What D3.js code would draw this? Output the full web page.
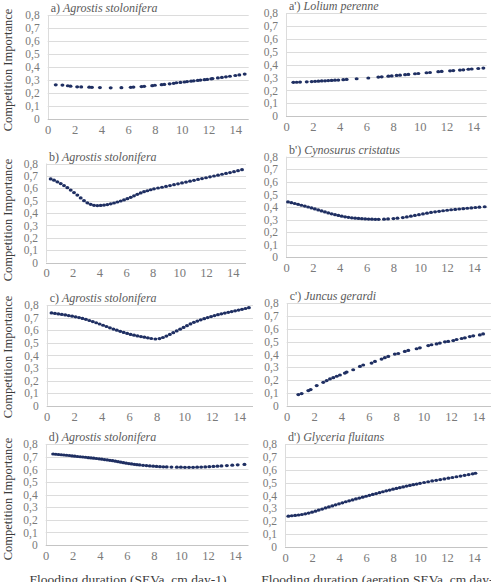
<!DOCTYPE html>
<html><head><meta charset="utf-8">
<script src="https://cdn.jsdelivr.net/npm/d3@7"></script>
</head>
<body style="margin:0;padding:0;background:#fff;">
<svg id="chart" width="491" height="582" style="display:block"></svg>
<script>
// ---------- data ----------
const yTickValues = [0, 0.1, 0.2, 0.3, 0.4, 0.5, 0.6, 0.7, 0.8];
const yTickLabels = ["0", "0,1", "0,2", "0,3", "0,4", "0,5", "0,6", "0,7", "0,8"];
const xTickValues = [0, 2, 4, 6, 8, 10, 12, 14];

const panelLetters = ["a)", "a')", "b)", "b')", "c)", "c')", "d)", "d')"];
const panelSpecies = ["Agrostis stolonifera", "Lolium perenne", "Agrostis stolonifera", "Cynosurus cristatus",
                      "Agrostis stolonifera", "Juncus gerardi", "Agrostis stolonifera", "Glyceria fluitans"];
const yAxisTitle = "Competition Importance";
const xAxisTitles = ["Flooding duration (SEVa, cm day-1)", "Flooding duration (aeration SEVa, cm day-1)"];

const xA = [0.6,1.1,1.5,1.7,2.2,2.5,3.1,3.3,3.9,4.7,5.5,6.2,6.4,7.0,7.2,7.8,8.0,8.5,8.7,9.1,9.4,9.6,9.9,10.2,10.4,10.7,10.9,11.2,11.4,11.7,11.9,12.2,12.3,12.7,13.0,13.3,13.6,14.0,14.3,14.7];
const yA = [0.265,0.263,0.258,0.255,0.25,0.249,0.247,0.246,0.244,0.242,0.243,0.246,0.248,0.252,0.254,0.259,0.262,0.266,0.268,0.273,0.277,0.281,0.284,0.287,0.29,0.293,0.296,0.299,0.302,0.305,0.307,0.311,0.313,0.318,0.322,0.327,0.331,0.337,0.341,0.348];

const xA2 = [0.55,0.8,1.05,1.55,1.92,2.17,2.42,2.67,2.92,3.16,3.41,3.66,3.91,4.28,4.53,5.28,6.15,6.9,7.15,7.65,7.9,8.27,8.52,8.9,9.14,9.64,9.89,10.5,10.76,11.38,11.63,12.26,12.5,13.0,13.25,13.63,13.88,14.37,14.75];
const yA2 = [0.262,0.263,0.264,0.266,0.268,0.27,0.271,0.273,0.274,0.276,0.277,0.279,0.28,0.283,0.285,0.29,0.296,0.303,0.305,0.31,0.312,0.316,0.318,0.322,0.324,0.329,0.331,0.337,0.339,0.345,0.347,0.352,0.354,0.358,0.36,0.364,0.366,0.37,0.373];

const xB = [0.35,0.6,0.85,1.1,1.35,1.6,1.85,2.1,2.35,2.6,2.85,3.1,3.35,3.6,3.85,4.1,4.35,4.6,4.85,5.1,5.35,5.6,5.85,6.1,6.35,6.6,6.85,7.1,7.35,7.6,7.85,8.1,8.4,8.7,9.0,9.3,9.6,9.9,10.2,10.5,10.8,11.1,11.4,11.7,12.0,12.3,12.6,12.9,13.2,13.5,13.8,14.1,14.4,14.7];
const yB = [0.675,0.665,0.652,0.638,0.622,0.605,0.585,0.565,0.545,0.522,0.5,0.482,0.47,0.462,0.46,0.461,0.464,0.468,0.474,0.481,0.489,0.497,0.506,0.516,0.527,0.539,0.551,0.562,0.572,0.58,0.588,0.595,0.602,0.608,0.615,0.622,0.629,0.636,0.643,0.65,0.657,0.664,0.671,0.678,0.685,0.692,0.699,0.706,0.713,0.72,0.727,0.734,0.742,0.75];

const xB2 = [0.15,0.4,0.65,0.9,1.15,1.4,1.65,1.9,2.15,2.4,2.65,2.9,3.15,3.4,3.65,3.9,4.15,4.4,4.65,4.9,5.15,5.4,5.65,5.9,6.15,6.4,6.65,6.9,7.3,7.6,8.0,8.3,8.7,9.0,9.3,9.6,9.9,10.2,10.5,10.8,11.1,11.4,11.7,12.0,12.3,12.6,12.9,13.2,13.5,13.8,14.1,14.4,14.8];
const yB2 = [0.44,0.434,0.428,0.421,0.414,0.407,0.4,0.393,0.385,0.377,0.369,0.361,0.353,0.346,0.339,0.333,0.327,0.322,0.318,0.314,0.311,0.309,0.307,0.305,0.304,0.303,0.302,0.302,0.303,0.305,0.308,0.311,0.316,0.321,0.327,0.333,0.339,0.345,0.351,0.357,0.362,0.366,0.37,0.374,0.378,0.381,0.384,0.387,0.39,0.393,0.396,0.399,0.402];

const xC = [0.35,0.6,0.85,1.1,1.35,1.6,1.85,2.1,2.35,2.6,2.85,3.1,3.35,3.6,3.85,4.1,4.35,4.6,4.85,5.1,5.35,5.6,5.85,6.1,6.35,6.6,6.85,7.1,7.35,7.6,7.9,8.2,8.45,8.7,8.95,9.2,9.45,9.7,9.95,10.2,10.45,10.7,10.95,11.2,11.45,11.7,11.95,12.2,12.45,12.7,12.95,13.2,13.45,13.7,13.95,14.2,14.45,14.7];
const yC = [0.737,0.733,0.729,0.725,0.721,0.716,0.711,0.706,0.7,0.693,0.686,0.677,0.668,0.659,0.649,0.639,0.629,0.619,0.609,0.6,0.591,0.582,0.574,0.566,0.56,0.554,0.549,0.544,0.539,0.534,0.53,0.533,0.542,0.553,0.566,0.58,0.594,0.608,0.622,0.636,0.65,0.662,0.672,0.682,0.691,0.7,0.708,0.716,0.723,0.73,0.736,0.742,0.748,0.754,0.76,0.766,0.772,0.779];

const xC2 = [0.85,1.09,1.58,1.75,2.19,2.67,2.92,3.16,3.4,3.65,3.89,4.25,4.38,4.86,5.35,5.59,6.2,6.45,6.93,7.17,7.42,7.9,8.15,8.63,8.88,9.49,9.73,10.34,10.58,10.95,11.19,11.56,11.8,12.17,12.41,12.78,13.02,13.38,13.63,14.11,14.35];
const yC2 = [0.087,0.095,0.118,0.126,0.157,0.183,0.196,0.209,0.219,0.23,0.24,0.255,0.263,0.281,0.307,0.318,0.333,0.346,0.364,0.375,0.385,0.403,0.408,0.424,0.432,0.445,0.452,0.47,0.476,0.483,0.489,0.499,0.502,0.509,0.517,0.525,0.53,0.54,0.546,0.553,0.561];

const xD = [0.55,0.75,0.95,1.15,1.35,1.55,1.75,1.95,2.15,2.35,2.55,2.75,2.95,3.15,3.35,3.55,3.75,3.95,4.15,4.35,4.55,4.75,4.95,5.15,5.35,5.55,5.75,5.95,6.15,6.35,6.55,6.75,6.95,7.2,7.45,7.7,7.95,8.2,8.45,8.7,8.95,9.3,9.7,10.0,10.3,10.6,10.9,11.2,11.5,11.8,12.1,12.4,12.7,13.0,13.4,13.8,14.2,14.7];
const yD = [0.723,0.721,0.719,0.717,0.715,0.713,0.711,0.708,0.706,0.703,0.701,0.699,0.697,0.694,0.692,0.69,0.687,0.685,0.682,0.679,0.676,0.673,0.67,0.666,0.662,0.658,0.654,0.65,0.647,0.644,0.641,0.638,0.636,0.633,0.631,0.628,0.626,0.624,0.622,0.621,0.62,0.619,0.618,0.618,0.617,0.617,0.617,0.618,0.619,0.62,0.622,0.624,0.626,0.628,0.631,0.634,0.637,0.64];

const xD2 = [0.25,0.5,0.75,1.0,1.25,1.5,1.75,2.0,2.25,2.5,2.75,3.0,3.25,3.5,3.75,4.0,4.25,4.5,4.75,5.0,5.25,5.5,5.75,6.0,6.25,6.5,6.75,7.0,7.25,7.5,7.75,8.0,8.25,8.5,8.75,9.0,9.25,9.5,9.75,10.0,10.3,10.6,10.9,11.2,11.5,11.8,12.1,12.4,12.7,13.0,13.3,13.6,13.9,14.1];
const yD2 = [0.238,0.241,0.244,0.247,0.251,0.256,0.262,0.269,0.277,0.285,0.293,0.302,0.31,0.318,0.326,0.334,0.342,0.35,0.357,0.364,0.372,0.379,0.386,0.393,0.4,0.407,0.414,0.421,0.428,0.435,0.441,0.448,0.454,0.46,0.466,0.472,0.477,0.483,0.488,0.494,0.5,0.506,0.512,0.517,0.523,0.528,0.534,0.539,0.545,0.55,0.556,0.562,0.568,0.572];

const seriesX = [xA, xA2, xB, xB2, xC, xC2, xD, xD2];
const seriesY = [yA, yA2, yB, yB2, yC, yC2, yD, yD2];

// ---------- layout (pixels) ----------
// [left (x=0), right (x=15), top (y=0.8), bottom (y=0)]
const frames = [
  [47.7, 248.7, 15.3, 119.3],
  [286, 486.7, 13.3, 116],
  [46, 246, 163.5, 262.5],
  [286, 487.4, 156.7, 257.3],
  [46.7, 253, 305, 405.7],
  [286.7, 492, 303.3, 405.7],
  [45.7, 248.5, 444.3, 545],
  [285, 487.5, 444, 546.7]
];
const yTitleCenters = [70, 220, 357, 499];

const SERIF = '"Liberation Serif"';
const svg = d3.select("#chart");
const dotColor = "#1f2f62";

frames.forEach((f, i) => {
  const [l, r, t, b] = f;
  const x = d3.scaleLinear().domain([0, 15]).range([l, r]);
  const y = d3.scaleLinear().domain([0, 0.8]).range([b, t]);
  const g = svg.append("g");

  // gridlines
  g.append("g").selectAll("line").data(yTickValues.filter(v => v > 0)).join("line")
    .attr("x1", l).attr("x2", r)
    .attr("y1", d => Math.round(y(d)) + 0.5).attr("y2", d => Math.round(y(d)) + 0.5)
    .attr("stroke", "#dcdcdc").attr("stroke-width", 1);
  g.append("line").attr("x1", Math.round(l) + 0.5).attr("x2", Math.round(l) + 0.5)
    .attr("y1", t).attr("y2", b).attr("stroke", "#dcdcdc");
  g.append("line").attr("x1", l).attr("x2", r)
    .attr("y1", Math.round(b) + 0.5).attr("y2", Math.round(b) + 0.5)
    .attr("stroke", "#c4c4c4");

  // y axis labels
  const ya = g.append("g").attr("transform", `translate(${l},0)`)
    .call(d3.axisLeft(y).tickValues(yTickValues).tickSize(0).tickPadding(8)
      .tickFormat((d, k) => yTickLabels[k]));
  ya.select(".domain").remove();
  ya.attr("font-family", null).attr("font-size", null);
  ya.selectAll("text").style("font-family", SERIF).style("font-size", "11.5px").attr("fill", "#7a7a7a");

  // x axis labels
  const xa = g.append("g").attr("transform", `translate(0,${b})`)
    .call(d3.axisBottom(x).tickValues(xTickValues).tickSize(0).tickPadding(6));
  xa.select(".domain").remove();
  xa.attr("font-family", null).attr("font-size", null);
  xa.selectAll("text").style("font-family", SERIF).style("font-size", "12.5px").attr("fill", "#7a7a7a");

  // panel title
  const tt = g.append("text").attr("x", l + 3).attr("y", t - 3)
    .style("font-family", SERIF).style("font-size", "12px").attr("fill", "#5a5a5a");
  tt.append("tspan").text(panelLetters[i] + " ");
  tt.append("tspan").style("font-style", "italic").text(panelSpecies[i]);

  // points
  const pts = seriesX[i].map((v, k) => [v, seriesY[i][k]]);
  g.append("g").selectAll("ellipse").data(pts).join("ellipse")
    .attr("cx", d => x(d[0])).attr("cy", d => y(d[1]))
    .attr("rx", 2).attr("ry", 1.6)
    .attr("fill", dotColor);

  // y title for left column
  if (i % 2 === 0) {
    const cy = yTitleCenters[i / 2];
    svg.append("text")
      .attr("transform", `translate(12,${cy}) rotate(-90)`)
      .attr("text-anchor", "middle")
      .style("font-family", SERIF).style("font-size", "12.5px").attr("fill", "#3c3c3c")
      .text(yAxisTitle);
  }
});

// x axis titles (cropped at bottom, as in the reference)
svg.append("text").attr("x", 128).attr("y", 584).attr("text-anchor", "middle")
  .style("font-family", SERIF).style("font-size", "13.5px").attr("fill", "#3c3c3c").text(xAxisTitles[0]);
svg.append("text").attr("x", 383).attr("y", 584).attr("text-anchor", "middle")
  .style("font-family", SERIF).style("font-size", "13.5px").attr("fill", "#3c3c3c").text(xAxisTitles[1]);
</script>
</body></html>
